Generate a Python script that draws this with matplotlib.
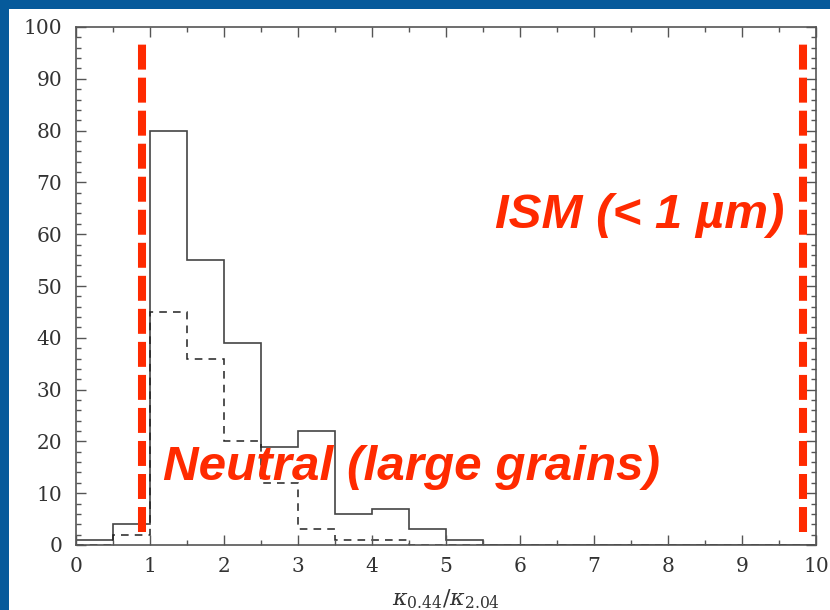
import numpy as np
import matplotlib
matplotlib.use("Agg")
import matplotlib.pyplot as plt
from matplotlib.patches import Rectangle
from matplotlib.ticker import MultipleLocator

# histogram of kappa ratio, bins of 0.5 from 0 to 10
bin_edges = np.arange(0, 10.5, 0.5)
counts_all = [1, 4, 80, 55, 39, 19, 22, 6, 7, 3, 1, 0, 0, 0, 0, 0, 0, 0, 0, 0]
counts_sub = [0, 2, 45, 36, 20, 12, 3, 1, 1, 0, 0, 0, 0, 0, 0, 0, 0, 0, 0, 0]

# boundaries marking the neutral / ISM regimes
bound_x = [0.89, 9.82]
bound_y = (2.5, 97)

blue = "#065a9b"
red = "#ff2a00"
grey = "#444444"

plt.rcParams["mathtext.fontset"] = "dejavuserif"

fig = plt.figure(figsize=(8.3, 6.1), dpi=100)
fig.patch.set_facecolor(blue)
fig.patches.append(Rectangle((9 / 830, 0), 1, (610 - 9) / 610,
                             transform=fig.transFigure, facecolor="white",
                             edgecolor="none", zorder=-10))

ax = fig.add_axes([76 / 830, 65 / 610, 740 / 830, 518 / 610])
ax.set_facecolor("white")

ax.stairs(counts_all, bin_edges, color=grey, lw=1.2)
ax.stairs(counts_sub, bin_edges, color="#222222", lw=1.1, linestyle=(0, (5, 4)))

for bx in bound_x:
    ax.plot([bx, bx], bound_y, color=red, lw=5.8, linestyle=(0, (3.1, 1.0)),
            solid_capstyle="butt", dash_capstyle="butt")

ax.text(5.66, 61.2, "ISM (< 1 µm)", color=red, fontsize=35.5,
        fontfamily="Liberation Sans", fontweight="bold", fontstyle="italic",
        ha="left", va="baseline")
ax.text(1.18, 12.5, "Neutral (large grains)", color=red, fontsize=35.6,
        fontfamily="Liberation Sans", fontweight="bold", fontstyle="italic",
        ha="left", va="baseline")

ax.set_xlim(0, 10)
ax.set_ylim(0, 100)
ax.xaxis.set_major_locator(MultipleLocator(1))
ax.xaxis.set_minor_locator(MultipleLocator(0.5))
ax.yaxis.set_major_locator(MultipleLocator(10))
ax.yaxis.set_minor_locator(MultipleLocator(2))
ax.tick_params(which="both", direction="in", top=True, right=True,
               color="#555555", width=1)
ax.tick_params(which="major", length=7, labelsize=14.5, labelcolor="#333333")
ax.tick_params(axis="x", which="major", pad=9)
ax.tick_params(axis="y", which="major", pad=10)
ax.tick_params(which="minor", length=3.5)
for lab in ax.get_xticklabels() + ax.get_yticklabels():
    lab.set_fontfamily("DejaVu Serif")
for sp in ax.spines.values():
    sp.set_color("#555555")
    sp.set_linewidth(1.2)

ax.set_xlabel(r"$\kappa_{0.44}/\kappa_{2.04}$", fontsize=16, color="#333333",
              labelpad=8)

fig.savefig("out.png", dpi=100, facecolor=fig.get_facecolor())
